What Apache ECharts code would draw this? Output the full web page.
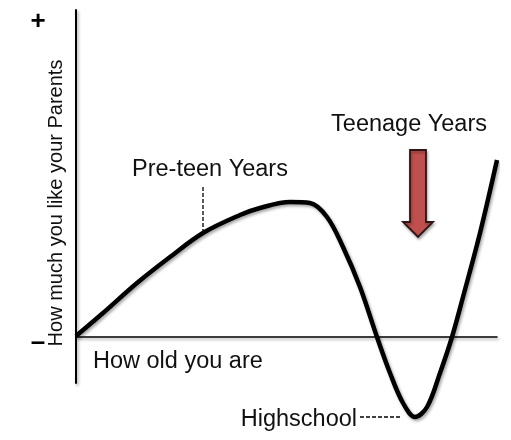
<!DOCTYPE html>
<html><head><meta charset="utf-8">
<script src="https://cdn.jsdelivr.net/npm/echarts@6/dist/echarts.min.js"></script>
<style>html,body{margin:0;padding:0;background:#fff}#c{width:511px;height:440px}</style>
</head><body><div id="c"></div>
<script>
// Age (arbitrary units) vs. how much you like your parents (arbitrary units)
const ages = [0, 27, 61, 94, 127, 164, 184, 214, 234, 251, 267, 284, 301, 314, 327, 339, 351, 364, 376, 387, 404, 421];
const liking = [1, 24, 54, 80, 104, 122, 129, 135, 134, 120, 90, 50, 0, -36, -66, -80, -70, -36, 0, 40, 104, 177];
const labels = { y: 'How much you like your Parents', x: 'How old you are', pre: 'Pre-teen Years', teen: 'Teenage Years', high: 'Highschool' };
const preTeenMark = [[127, 150], [127, 105]];
const highMark = [[284, -80], [326, -80]];

const chart = echarts.init(document.getElementById('c'));
const font = '"Liberation Sans", Arial, Helvetica, sans-serif';
const shadow = { shadowColor: 'rgba(0,0,0,0.35)', shadowBlur: 3, shadowOffsetX: 1.5, shadowOffsetY: 2 };
const dashStyle = { color: '#000', type: [4, 2], width: 1.3 };
chart.setOption({
  animation: false,
  grid: { left: 76, right: 14, top: 10, bottom: 57 },
  xAxis: { type: 'value', min: 0, max: 421, axisLine: { onZero: true, lineStyle: Object.assign({ color: '#000', width: 1.5 }, shadow) }, axisTick: { show: false }, axisLabel: { show: false }, splitLine: { show: false } },
  yAxis: { type: 'value', min: -46, max: 327, axisLine: { show: true, lineStyle: Object.assign({ color: '#000', width: 2 }, shadow) }, axisTick: { show: false }, axisLabel: { show: false }, splitLine: { show: false } },
  series: [
    { type: 'line', data: ages.map((a, i) => [a, liking[i]]), smooth: 0.35, showSymbol: false, clip: false,
      lineStyle: Object.assign({ color: '#000', width: 4.5 }, shadow) },
    { type: 'line', data: preTeenMark, showSymbol: false, clip: false, silent: true, lineStyle: dashStyle },
    { type: 'line', data: highMark, showSymbol: false, clip: false, silent: true, lineStyle: dashStyle }
  ],
  graphic: [
    { type: 'text', x: 38, y: 22, style: { text: '+', font: 'bold 26px ' + font, fill: '#000', align: 'center', verticalAlign: 'middle' } },
    { type: 'text', x: 38, y: 343, style: { text: '–', font: 'bold 26px ' + font, fill: '#000', align: 'center', verticalAlign: 'middle' } },
    { type: 'text', x: 56, y: 203, rotation: Math.PI / 2, style: { text: labels.y, font: '20px ' + font, fill: '#111', align: 'center', verticalAlign: 'middle' } },
    { type: 'text', x: 93, y: 362, style: { text: labels.x, font: '23.5px ' + font, fill: '#111', align: 'left', verticalAlign: 'middle' } },
    { type: 'text', x: 132, y: 170, style: { text: labels.pre, font: '23.5px ' + font, fill: '#111', align: 'left', verticalAlign: 'middle' } },
    { type: 'text', x: 487, y: 125, style: { text: labels.teen, font: '23.5px ' + font, fill: '#111', align: 'right', verticalAlign: 'middle' } },
    { type: 'text', x: 357, y: 420, style: { text: labels.high, font: '23.5px ' + font, fill: '#111', align: 'right', verticalAlign: 'middle' } },
    { type: 'polygon', shape: { points: [[410, 150], [426, 150], [426, 222], [433, 222], [418, 237], [403, 222], [410, 222]] },
      style: Object.assign({ fill: '#C0504D', stroke: '#2b1515', lineWidth: 1.8 }, { shadowColor: 'rgba(0,0,0,0.3)', shadowBlur: 3, shadowOffsetX: 1, shadowOffsetY: 2 }) }
  ]
});
</script></body></html>
